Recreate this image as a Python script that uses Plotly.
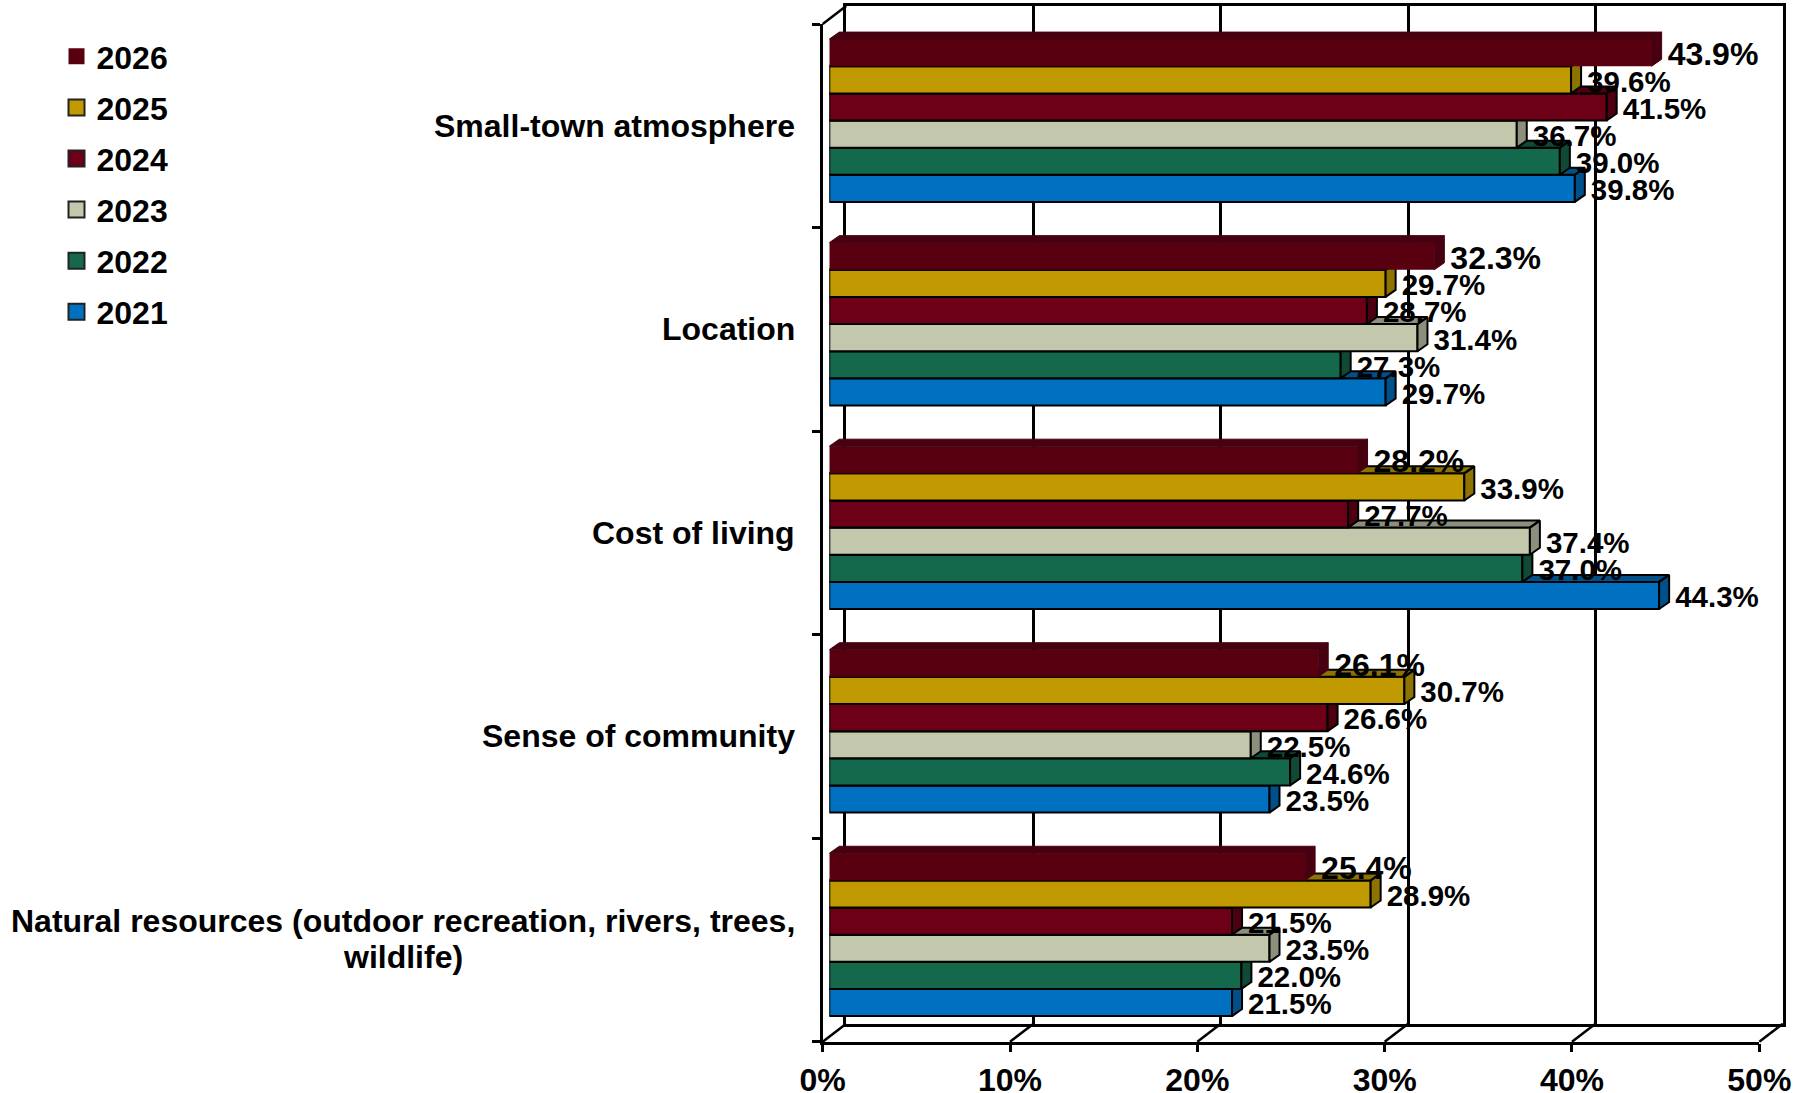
import plotly.graph_objects as go

categories = [["Natural resources (outdoor recreation, rivers, trees,", "wildlife)"],
              ["Sense of community"], ["Cost of living"], ["Location"], ["Small-town atmosphere"]]
years = ["2021", "2022", "2023", "2024", "2025", "2026"]
v2021 = [21.5, 23.5, 44.3, 29.7, 39.8]
v2022 = [22.0, 24.6, 37.0, 27.3, 39.0]
v2023 = [23.5, 22.5, 37.4, 31.4, 36.7]
v2024 = [21.5, 26.6, 27.7, 28.7, 41.5]
v2025 = [28.9, 30.7, 33.9, 29.7, 39.6]
v2026 = [25.4, 26.1, 28.2, 32.3, 43.9]
series = [v2021, v2022, v2023, v2024, v2025, v2026]
front_colors = ["#0070C0", "#14684C", "#C3C7AB", "#6D0017", "#C09A00", "#590010"]
face_colors = ["#00508A", "#0E4A36", "#8C8F7B", "#4D0010", "#8F7300", "#470010"]
outlines = [2, 2, 2, 2, 2, 0]
label_sizes = [29.5, 29.5, 29.5, 29.5, 29.5, 32]
x_ticks = [0, 10, 20, 30, 40, 50]

W, H = 1802, 1093
FONT = "Liberation Sans"
SIZE = 32
LINE = 2.5
# pixel geometry of the pseudo-3D planes
FX0, FX1, FY0, FY1 = 822.7, 1759.3, 24.0, 1041.7      # front plane
BDX, BDY = 23.5, -18.0                                 # back plane offset
BAR_DX, BAR_DY = 6.6, -5.25                            # bar plane offset
DEPTH_X, DEPTH_Y = 10.0, 7.0                           # bar depth
LABEL_DX, LABEL_DY = 16.0, 4.5
CAT_GAP = 26
CAT_LINE = 36
PX_X = (FX1 - FX0) / 50.0
PX_Y = (FY1 - FY0) / 5.0
BAR_H = 0.8 / 6


def xdom(a, b):
    return [a / W, b / W]


def ydom(top, bottom):
    return [1 - bottom / H, 1 - top / H]


def axis(dom, rng, **kw):
    d = dict(domain=dom, range=rng, showgrid=False, zeroline=False, showticklabels=False,
             ticks="", showline=False, fixedrange=True)
    d.update(kw)
    return d


XR, YR = [0, 50], [-0.5, 4.5]
tick_font = dict(family=FONT, size=SIZE, weight=700, color="black")
layout = dict(width=W, height=H, margin=dict(l=0, r=0, t=0, b=0, autoexpand=False),
              paper_bgcolor="white", plot_bgcolor="rgba(0,0,0,0)", barmode="overlay",
              font=dict(family=FONT, color="black"), hovermode="closest")

# back wall: box and gridlines
layout["xaxis"] = axis(xdom(FX0 + BDX, FX1 + BDX), XR, anchor="y", tickmode="array", tickvals=x_ticks,
                       showgrid=True, gridcolor="black", gridwidth=LINE, showline=True, linecolor="black",
                       linewidth=LINE, mirror=True)
layout["yaxis"] = axis(ydom(FY0 + BDY, FY1 + BDY), YR, anchor="x", showline=True, linecolor="black",
                       linewidth=LINE, mirror=True)
# front axes
layout["xaxis2"] = axis(xdom(FX0, FX1), XR, anchor="y2", tickmode="array", tickvals=x_ticks,
                        ticktext=[f"{t}%" for t in x_ticks], showticklabels=True, ticks="outside",
                        ticklen=8, tickwidth=LINE, tickcolor="black", showline=True, linecolor="black",
                        linewidth=LINE, tickfont=tick_font)
layout["yaxis2"] = axis(ydom(FY0, FY1), YR, anchor="x2", tickmode="array",
                        tickvals=[i - 0.5 for i in range(6)], ticks="outside", ticklen=8, tickwidth=LINE,
                        tickcolor="black", showline=True, linecolor="black", linewidth=LINE)
# one axis pair per series so that the layers stack bottom bar first
for s in range(6):
    n = s + 3
    layout[f"xaxis{n}"] = axis(xdom(FX0 + BAR_DX, FX1 + BAR_DX), XR, anchor=f"y{n}")
    layout[f"yaxis{n}"] = axis(ydom(FY0 + BAR_DY, FY1 + BAR_DY), YR, anchor=f"x{n}")
layout["xaxis9"] = axis(xdom(FX0 + BAR_DX + LABEL_DX, FX1 + BAR_DX + LABEL_DX), XR, anchor="y9")
layout["yaxis9"] = axis(ydom(FY0 + BAR_DY + LABEL_DY, FY1 + BAR_DY + LABEL_DY), YR, anchor="x9")

fig = go.Figure(layout=layout)

# empty traces so that the two frame subplots exist and are drawn first
fig.add_trace(go.Scatter(x=[None], y=[None], xaxis="x", yaxis="y", showlegend=False, hoverinfo="skip"))
fig.add_trace(go.Scatter(x=[None], y=[None], xaxis="x2", yaxis="y2", showlegend=False, hoverinfo="skip"))

ddx, ddy = DEPTH_X / PX_X, DEPTH_Y / PX_Y
for s, vals in enumerate(series):
    n = s + 3
    offset = -0.4 + s * BAR_H
    idx = list(range(len(vals)))
    bar_line = dict(color="black", width=outlines[s]) if outlines[s] else dict(color=front_colors[s], width=0)
    fig.add_trace(go.Bar(x=vals, y=idx, orientation="h", width=BAR_H, offset=offset, base=0,
                         marker=dict(color=front_colors[s], line=bar_line),
                         xaxis=f"x{n}", yaxis=f"y{n}", name=years[s], legendgroup=years[s],
                         showlegend=False))
    px, py = [], []
    for i, v in zip(idx, vals):
        lo, hi = i + offset, i + offset + BAR_H
        px += [0, v, v + ddx, ddx, 0, None, v, v + ddx, v + ddx, v, v, None]
        py += [hi, hi, hi + ddy, hi + ddy, hi, None, lo, lo + ddy, hi + ddy, hi, lo, None]
    face_line = dict(color="black", width=outlines[s]) if outlines[s] else dict(color=face_colors[s], width=1)
    fig.add_trace(go.Scatter(x=px, y=py, mode="lines", fill="toself", fillcolor=face_colors[s],
                             line=face_line, xaxis=f"x{n}", yaxis=f"y{n}", showlegend=False,
                             hoverinfo="skip", legendgroup=years[s]))

# value labels on top of everything
for s, vals in enumerate(series):
    offset = -0.4 + s * BAR_H
    fig.add_trace(go.Scatter(x=vals, y=[i + offset + BAR_H / 2 for i in range(len(vals))], mode="text",
                             text=[f"{v:.1f}%" for v in vals], textposition="middle right",
                             textfont=dict(family=FONT, size=label_sizes[s], weight=700, color="black"),
                             xaxis="x9", yaxis="y9", cliponaxis=False,
                             showlegend=False, hoverinfo="skip", legendgroup=years[s]))

# legend entries, newest first
for s in reversed(range(6)):
    fig.add_trace(go.Scatter(x=[None], y=[None], mode="markers", name=years[s], legendgroup=years[s],
                             marker=dict(symbol="square", size=16, color=front_colors[s],
                                         line=dict(color="#222222", width=outlines[s])),
                             xaxis="x9", yaxis="y9"))
fig.update_layout(legend=dict(x=56.5 / W, y=1 - 29 / H, xanchor="left", yanchor="top",
                              traceorder="grouped", tracegroupgap=6.5,
                              bgcolor="rgba(0,0,0,0)", borderwidth=0, font=tick_font))

# category labels: lines of a wrapped label are centred under the longest one
for i, lines in enumerate(categories):
    for k, line in enumerate(lines):
        shift = (len(lines) - 1) / 2 - k
        one_line = len(lines) == 1
        fig.add_annotation(text=line, xref="x2", yref="y2", x=0, y=i,
                           xanchor="right" if one_line else "center",
                           yanchor="middle", align="center", showarrow=False,
                           xshift=-CAT_GAP if one_line else -CAT_GAP - 393.5,
                           yshift=0 + shift * CAT_LINE + (1 if not one_line else 0) if not one_line else 0,
                           font=tick_font)

# floor and top-left edges joining front and back planes
ln = dict(color="black", width=LINE)
for t in x_ticks:
    x0 = FX0 + t * PX_X
    fig.add_shape(type="line", xref="paper", yref="paper", x0=x0 / W, x1=(x0 + BDX) / W,
                  y0=1 - FY1 / H, y1=1 - (FY1 + BDY) / H, line=ln, layer="below")
fig.add_shape(type="line", xref="paper", yref="paper", x0=FX0 / W, x1=(FX0 + BDX) / W,
              y0=1 - FY0 / H, y1=1 - (FY0 + BDY) / H, line=ln, layer="below")

fig.write_html("out.html", config=dict(displayModeBar=False),
               post_script="document.body.style.margin='0';document.body.style.overflow='hidden';")
